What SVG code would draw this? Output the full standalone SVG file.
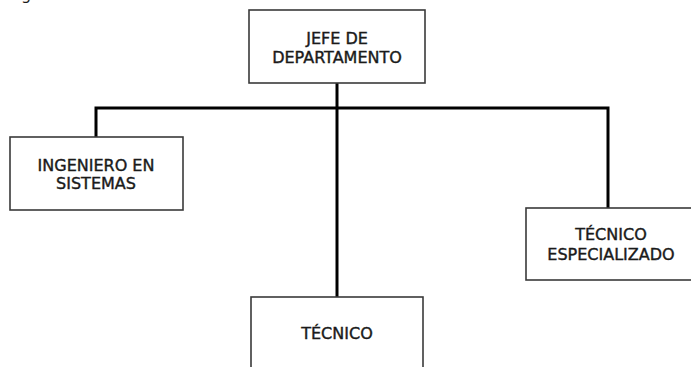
<svg xmlns="http://www.w3.org/2000/svg" width="691" height="367" viewBox="0 0 691 367">
<style>
.box{fill:#fff;stroke:#3a3a3a;stroke-width:1.6}
.lbl{font-family:"DejaVu Sans",sans-serif;font-size:16px;fill:#1a1a1a;stroke:#1a1a1a;stroke-width:0.4;text-anchor:middle}
.con{fill:none;stroke:#000;stroke-width:3}
</style>
<rect width="691" height="367" fill="#fff"/>
<text x="21" y="0" style="font-family:'DejaVu Sans',sans-serif;font-size:16px;fill:#1a1a1a">g</text>
<g id="connectors">
<line class="con" x1="337" y1="83" x2="337" y2="297"/>
<polyline class="con" points="96,137 96,108 608,108 608,208"/>
</g>
<g id="jefe">
<rect class="box" x="249" y="10" width="176" height="73"/>
<text class="lbl" x="337" y="44">JEFE DE</text>
<text class="lbl" x="337" y="63">DEPARTAMENTO</text>
</g>
<g id="ingeniero">
<rect class="box" x="10" y="137" width="173" height="73"/>
<text class="lbl" x="96" y="171">INGENIERO EN</text>
<text class="lbl" x="96" y="189">SISTEMAS</text>
</g>
<g id="especializado">
<rect class="box" x="526" y="208" width="170" height="72"/>
<text class="lbl" x="611" y="240">TÉCNICO</text>
<text class="lbl" x="611" y="260">ESPECIALIZADO</text>
</g>
<g id="tecnico">
<rect class="box" x="251" y="297" width="172" height="80"/>
<text class="lbl" x="337" y="339">TÉCNICO</text>
</g>
</svg>
